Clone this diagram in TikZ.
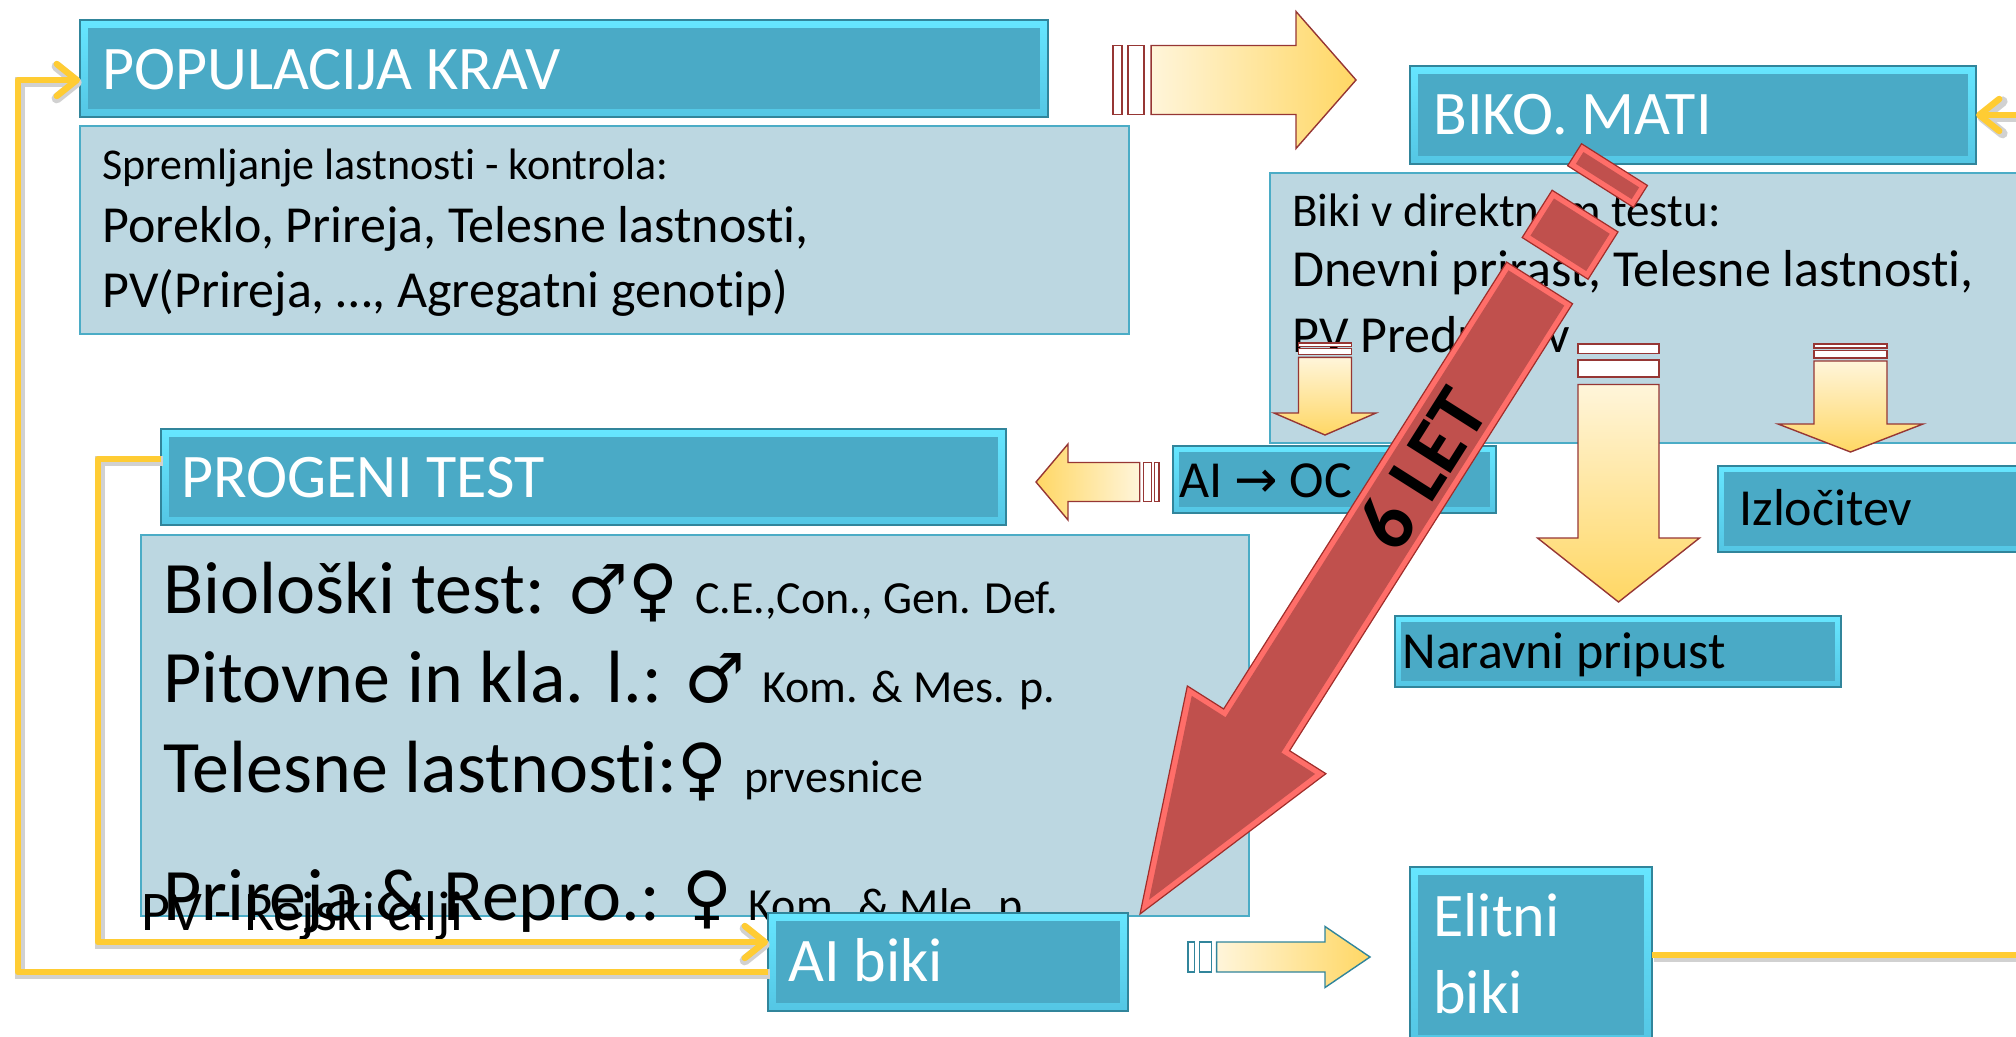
\documentclass[tikz,border=0pt]{standalone}
\usepackage{fontspec}
\setmainfont{Carlito}[Ligatures={NoCommon}]
\newfontfamily\symfont{DejaVu Sans}
\usetikzlibrary{shapes,arrows.meta,calc}

\definecolor{hdrlight}{RGB}{102,230,255}
\definecolor{hdrdark}{RGB}{84,198,228}
\definecolor{hdrin}{RGB}{74,170,198}
\definecolor{hdredge}{RGB}{49,133,155}
\definecolor{bodyfill}{RGB}{188,215,225}
\definecolor{bodyedge}{RGB}{75,172,198}
\definecolor{connyellow}{RGB}{255,204,51}
\definecolor{arrpale}{RGB}{255,245,218}
\definecolor{arrgold}{RGB}{255,215,100}
\definecolor{arredge}{RGB}{150,54,52}
\definecolor{tealedge}{RGB}{49,133,155}
\definecolor{redfill}{RGB}{192,80,77}
\definecolor{redbevel}{RGB}{255,110,105}
\definecolor{redline}{RGB}{160,45,42}

\newcommand{\smalltxt}{\fontsize{23}{28}\selectfont}
\newcommand{\sexsym}{\symfont\fontsize{34}{40}\selectfont}

% tail point, angle, length, body half, head half, head length, outline, shading angle
\newcommand{\stripedarr}[8]{%
	\begin{scope}[shift={#1},rotate=#2]
		\draw[#7,fill=white,line width=0.7pt] (0,-#4) rectangle (0.037*#3,#4);
		\draw[#7,fill=white,line width=0.7pt] (0.062*#3,-#4) rectangle (0.128*#3,#4);
		\draw[#7,line width=0.7pt,top color=arrgold,bottom color=arrpale,shading angle=#8]
		(0.157*#3,-#4) -- (#3-#6,-#4) -- (#3-#6,-#5) -- (#3,0) -- (#3-#6,#5) -- (#3-#6,#4) -- (0.157*#3,#4) -- cycle;
	\end{scope}}

\begin{document}
\begin{tikzpicture}[x=0.5pt,y=-0.5pt]
		\tikzstyle{hdr_block} = [draw=hdredge, line width=0.6pt, top color=hdrlight, bottom color=hdrdark, rectangle, inner sep=0, outer sep=0,
			path picture={\fill[hdrin] ([xshift=4pt,yshift=-4pt]path picture bounding box.north west) rectangle ([xshift=-4pt,yshift=4pt]path picture bounding box.south east);}];
		\tikzstyle{lbl_block} = [draw=hdredge, line width=0.6pt, top color=hdrlight, bottom color=hdrdark, rectangle, inner sep=0, outer sep=0,
			path picture={\fill[hdrin] ([xshift=3pt,yshift=-3pt]path picture bounding box.north west) rectangle ([xshift=-3pt,yshift=3pt]path picture bounding box.south east);}];
		\tikzstyle{body_block} = [draw=bodyedge, line width=1pt, fill=bodyfill, rectangle, inner sep=0, outer sep=0];
		\tikzstyle{hdr_text} = [anchor=base west, inner sep=0, text=white, font=\fontsize{31}{37}\selectfont];
		\tikzstyle{lbl_text} = [anchor=base west, inner sep=0, font=\fontsize{26}{31}\selectfont];
		\tikzstyle{note_text} = [anchor=base west, inner sep=0, font=\fontsize{22}{26}\selectfont];
		\tikzstyle{big_text} = [anchor=base west, inner sep=0, font=\fontsize{37}{44}\selectfont];
		\tikzstyle{conn} = [draw=connyellow, line width=3.2pt, line join=round, -{Straight Barb[length=10pt,width=16pt,round]},
			preaction={draw=black!18, line width=5pt, transform canvas={xshift=0.8pt,yshift=-1.2pt}}];

		\useasboundingbox (0,0) rectangle (2016,1037);
		\clip (0,0) rectangle (2016,1037);

		\node[body_block, minimum width=524.5, minimum height=104] (popbody) at (604.5,230) {};
		\node[hdr_block, minimum width=484, minimum height=48.5] (popul) at (564,68.5) {};
		\node[body_block, minimum width=385, minimum height=135] (bikobody) at (1655,308) {};
		\node[hdr_block, minimum width=283, minimum height=49] (biko) at (1693,115) {};
		\node[body_block, minimum width=554, minimum height=190.5] (progbody) at (695,725.5) {};
		\node[hdr_block, minimum width=422.5, minimum height=48] (progeni) at (583.5,477) {};
		\node[lbl_block, minimum width=161.5, minimum height=33.5] (aioc) at (1334.5,479.5) {};
		\node[lbl_block, minimum width=161, minimum height=43] (izlo) at (1879,509) {};
		\node[lbl_block, minimum width=223, minimum height=35.5] (narav) at (1618,651.5) {};
		\node[hdr_block, minimum width=121, minimum height=88] (elitni) at (1531,955) {};

		\node[hdr_text] (poptitle) at (102,90) {POPULACIJA KRAV};
		\node[note_text] (pop1) at (102,180) {Spremljanje lastnosti - kontrola:};
		\node[lbl_text] (pop2) at (102,243) {Poreklo, Prireja, Telesne lastnosti,};
		\node[lbl_text] (pop3) at (102,307) {PV(Prireja, …, Agregatni genotip)};

		\node[hdr_text] (bikotitle) at (1433,135) {BIKO. MATI};
		\node[note_text, font=\fontsize{23.5}{28}\selectfont] (biko1) at (1292,227) {Biki v direktnem testu:};
		\node[lbl_text] (biko2) at (1292,287) {Dnevni prirast, Telesne lastnosti,};
		\node[lbl_text] (biko3) at (1292,352) {PV Prednikov};

		\node[hdr_text] (progtitle) at (181,497) {PROGENI TEST};
		\node[big_text] (bio1) at (163,613) {Biološki test: {\sexsym ♂♀} {\smalltxt C.E.,Con., Gen. Def.}};
		\node[big_text] (bio2) at (163,702) {Pitovne in kla. l.: {\sexsym ♂} {\smalltxt Kom. \& Mes. p.}};
		\node[big_text] (bio3) at (163,792) {Telesne lastnosti:{\sexsym ♀} {\smalltxt prvesnice}};
		\node[big_text] (bio4) at (163,920) {Prireja \& Repro.: {\sexsym ♀} {\smalltxt Kom. \& Mle. p.}};
		\node[lbl_text, font=\fontsize{28}{33}\selectfont] (cilji) at (141,930) {PV - Rejski cilji};

		\node[lbl_text] (aioctext) at (1179,497) {AI {\symfont →} OC};
		\node[lbl_text] (izlotext) at (1739,525) {Izločitev};
		\node[lbl_text] (naravtext) at (1402,668) {Naravni pripust};
		\node[hdr_text] (elitni1) at (1433,936) {Elitni};
		\node[hdr_text] (elitni2) at (1433,1013) {biki};

		\node[hdr_block, minimum width=180, minimum height=49] (aibiki) at (948,962) {};
		\node[hdr_text] (aibikitext) at (788,981) {AI biki};

		\coordinate (lcorner) at (18,80);
		\coordinate (icorner) at (98,942);
		\coordinate (rcorner) at (2060,115);
		\draw[conn] ([yshift=-5pt]aibiki.west) -| (lcorner) -- ([yshift=-5.75pt]popul.west);
		\draw[conn] ([yshift=9pt]progeni.west) -| (icorner) -- ([yshift=10pt]aibiki.west);
		\draw[conn] (elitni.east) -| (rcorner) -- (biko.east);

		\stripedarr{(1113,80)}{0}{243}{34.5}{68.5}{60}{arredge}{-90}
		\stripedarr{(1159,482)}{180}{123}{19.5}{38}{32}{arredge}{90}
		\stripedarr{(1325,343)}{-90}{92}{26.5}{51}{22}{arredge}{-180}
		\stripedarr{(1618.5,344)}{-90}{258}{40.5}{81}{64}{arredge}{-180}
		\stripedarr{(1850.5,344)}{-90}{108}{36.5}{72.5}{28}{arredge}{-180}
		\stripedarr{(1188,957)}{0}{182}{15}{30.5}{45}{tealedge}{-90}

		\coordinate (redtip) at (1140,914);
		\begin{scope}[shift={(redtip)},rotate=57.66]
			\filldraw[fill=redbevel, draw=redline, line width=0.6pt] (0,0) -- (218,-82) -- (218,-39) -- (747,-39) -- (747,39) -- (218,39) -- (218,82) -- cycle;
			\fill[redfill] (17,0) -- (212,-73) -- (212,-33) -- (741,-33) -- (741,33) -- (212,33) -- (212,73) -- cycle;
			\foreach \a/\b in {776/832, 861/887}{
				\filldraw[fill=redbevel, draw=redline, line width=0.6pt] (\a,-39) rectangle (\b,39);
				\fill[redfill] (\a+6,-33) rectangle (\b-6,33);
			}
			\node[transform shape, inner sep=0, font=\bfseries\fontsize{40}{48}\selectfont] (sixlet) at (527,0) {6 LET};
		\end{scope}
\end{tikzpicture}
\end{document}
